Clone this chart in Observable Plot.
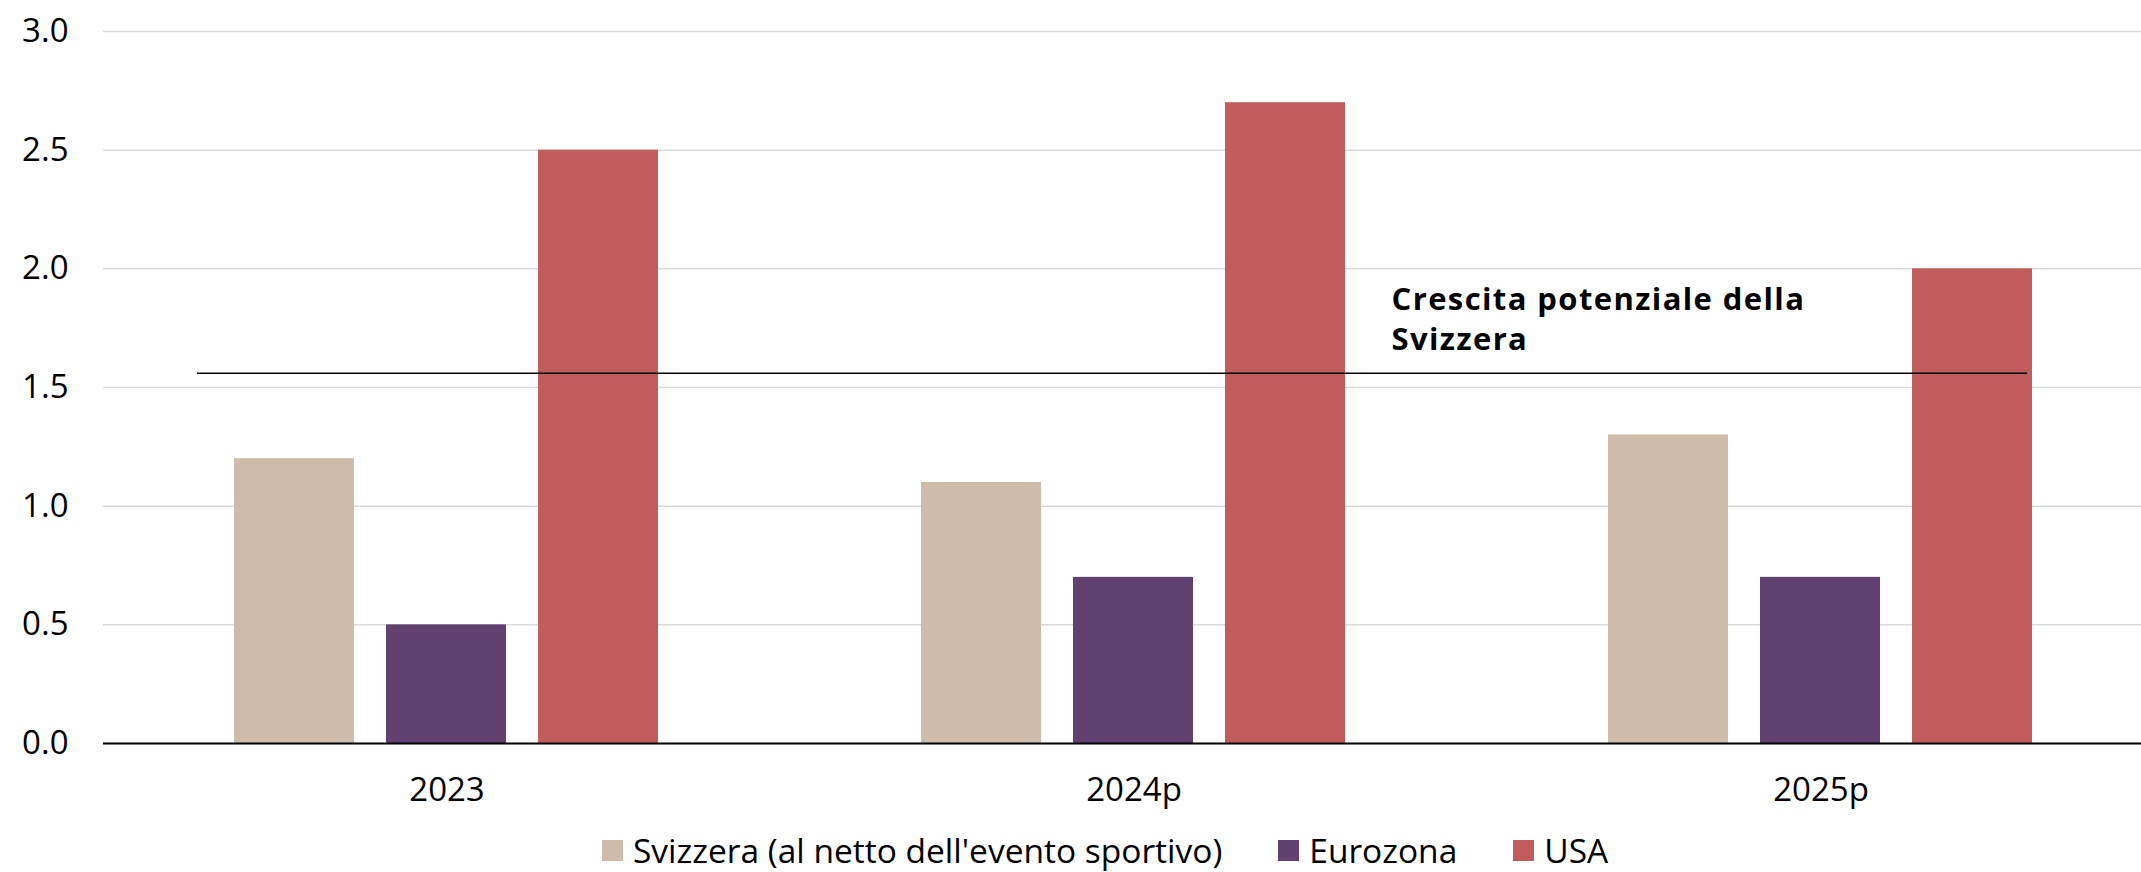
<!DOCTYPE html>
<html>
<head>
<meta charset="utf-8">
<script src="https://cdn.jsdelivr.net/npm/d3@7"></script>
<script src="https://cdn.jsdelivr.net/npm/@observablehq/plot@0.6"></script>
<style>
  html, body { margin: 0; padding: 0; background: #fff; overflow: hidden; width: 2141px; height: 872px; }
  #wrap { position: relative; width: 2141px; height: 872px; overflow: hidden; font-family: "Open Sans", sans-serif; }
  #chart svg { max-width: none !important; width: 2164px !important; height: 820px !important; display: block; }
  #legend { position: absolute; left: 602px; top: 834px; height: 33px; display: flex; align-items: center; font-size: 33.5px; line-height: 33px; color: #000; white-space: nowrap; }
  .item { display: flex; align-items: center; margin-right: 56px; }
  .sw { width: 21px; height: 21px; margin-right: 10px; }
</style>
</head>
<body>
<div id="wrap"><div id="chart"></div><div id="legend"></div></div>
<script>
const years = ["2023", "2024p", "2025p"];
const series = ["Svizzera (al netto dell'evento sportivo)", "Eurozona", "USA"];
const colors = ["#cdbcaa", "#624171", "#c05c5c"];
const svizzera = [1.2, 1.1, 1.3];
const eurozona = [0.5, 0.7, 0.7];
const usa = [2.5, 2.7, 2.0];
const yTicks = [0, 0.5, 1.0, 1.5, 2.0, 2.5, 3.0];
const potential = 1.56;
const annotation = "Crescita potenziale della\nSvizzera";

const values = [svizzera, eurozona, usa];
const data = [];
years.forEach((yr, i) => series.forEach((s, j) => data.push({year: yr, series: s, value: values[j][i]})));

const chart = Plot.plot({
  width: 2164,
  height: 820,
  marginLeft: 103,
  marginRight: 0,
  marginTop: 31,
  marginBottom: 77,
  style: {fontFamily: "Open Sans", fontSize: "33px", color: "#000", background: "#fff", overflow: "visible"},
  fx: {domain: years, padding: 0, label: null, axis: null},
  x: {domain: series, paddingInner: 0.2105, paddingOuter: 0.862, axis: null},
  y: {domain: [0, 3], label: null, axis: null},
  color: {domain: series, range: colors},
  marks: [
    Plot.gridY(yTicks, {stroke: "#d9d9d9", strokeOpacity: 1, strokeWidth: 1.5}),
    Plot.axisY(yTicks, {tickSize: 0, tickPadding: 35, tickFormat: d => d.toFixed(1), label: null, fill: "#000"}),
    Plot.axisFx({anchor: "bottom", tickSize: 0, tickPadding: 34, label: null, fill: "#000"}),
    Plot.barY(data, {fx: "year", x: "series", y: "value", fill: "series"}),
    Plot.ruleY([0], {stroke: "#000", strokeWidth: 2}),
    // potential-growth line: drawn in the last facet, extended leftward across all groups
    Plot.ruleY([{year: years[2], value: potential}], {fx: "year", y: "value", stroke: "#000", strokeWidth: 1.3, insetLeft: -1280, insetRight: 137}),
    Plot.text([{year: years[1], series: series[2], value: potential, label: annotation}], {
      fx: "year", x: "series", y: "value", text: "label",
      textAnchor: "start", lineAnchor: "bottom", dx: 106, dy: -23,
      fontWeight: "bold", fontSize: 31, lineHeight: 1.29, fill: "#000"
    })
  ]
});
document.getElementById("chart").appendChild(chart);
d3.select(chart).selectAll("text").filter(function() { return this.textContent.startsWith("Crescita"); })
  .style("letter-spacing", "1.4px");

const legend = document.getElementById("legend");
series.forEach((s, i) => {
  const it = document.createElement("div");
  it.className = "item";
  const sw = document.createElement("div");
  sw.className = "sw";
  sw.style.background = colors[i];
  const tx = document.createElement("span");
  tx.textContent = s;
  it.appendChild(sw);
  it.appendChild(tx);
  legend.appendChild(it);
});
</script>
</body>
</html>
